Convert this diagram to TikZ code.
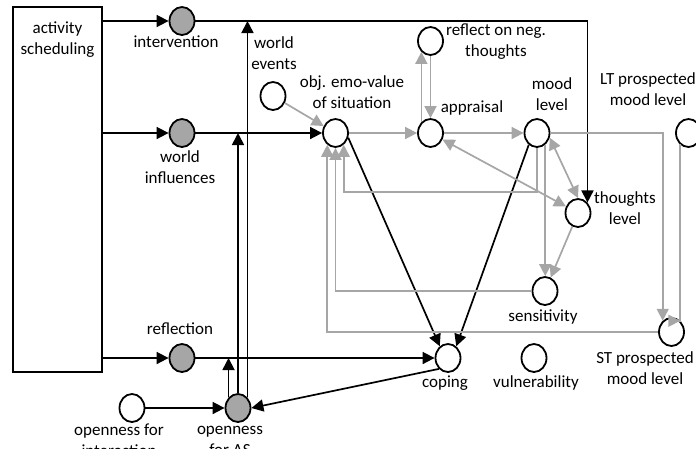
\documentclass[tikz,border=0pt]{standalone}
\usepackage{fontspec}
\setmainfont{Carlito}
\usetikzlibrary{shapes.geometric,arrows.meta}
\definecolor{lg}{HTML}{A6A6A6}
\begin{document}
\begin{tikzpicture}[x=1pt,y=-1pt,
  font=\fontsize{17}{21}\selectfont,
  wnode/.style={ellipse, draw, line width=1.8pt, fill=white, minimum width=25pt, minimum height=28pt, inner sep=0pt},
  gnode/.style={wnode, fill=lg},
  lbl/.style={align=center, inner sep=0pt},
  blk/.style={draw=black, line width=1.7pt, -{Triangle[length=12pt,width=12pt]}},
  gry/.style={draw=lg, line width=1.7pt, -{Triangle[length=12pt,width=12pt]}},
  gry2/.style={draw=lg, line width=1.7pt, {Triangle[length=12pt,width=12pt]}-{Triangle[length=12pt,width=12pt]}},
]
\useasboundingbox (0,0) rectangle (696,448);
\clip (0,0) rectangle (696,448);

% activity scheduling box
\node[draw, line width=1.7pt, minimum width=89pt, minimum height=365pt, inner sep=0pt] (act) at (57.5,189.5) {};
\node[lbl] (lact) at (57.5,40) {activity\\scheduling};

% grey nodes
\node[gnode] (intv) at (182,21) {};
\node[gnode] (wi) at (182,133) {};
\node[gnode] (refl) at (182,358) {};
\node[gnode] (oas) at (238,408) {};

% white nodes
\node[wnode] (ofi) at (132,408) {};
\node[wnode] (objsrc) at (273,96) {};
\node[wnode] (obj) at (335.5,133) {};
\node[wnode] (appr) at (430.5,133) {};
\node[wnode] (rfl) at (430.5,41) {};
\node[wnode] (mood) at (537,133) {};
\node[wnode] (lt) at (688.5,133) {};
\node[wnode] (thl) at (578,213) {};
\node[wnode] (sens) at (545,291) {};
\node[wnode] (cop) at (448,358) {};
\node[wnode] (vul) at (534,358) {};
\node[wnode] (st) at (671.5,332) {};

% labels
\node[lbl] (lintv) at (176,42) {intervention};
\node[lbl] (lwe) at (274,53) {world\\events};
\node[lbl] (lobj) at (352,92.5) {obj. emo-value\\of situation};
\node[lbl] (lrfl) at (496,41.5) {reflect on neg.\\thoughts};
\node[lbl] (lappr) at (472,108) {appraisal};
\node[lbl] (lmood) at (552,94) {mood\\level};
\node[lbl] (llt) at (648,89.5) {LT prospected\\mood level};
\node[lbl] (lwi) at (180,167.5) {world\\influences};
\node[lbl] (lthl) at (625,208) {thoughts\\level};
\node[lbl] (lsens) at (543,317) {sensitivity};
\node[lbl] (lrefl) at (180,329) {reflection};
\node[lbl] (lcop) at (445,383) {coping};
\node[lbl] (lvul) at (536,383) {vulnerability};
\node[lbl] (lst) at (645,368) {ST prospected\\mood level};
\node[lbl] (lofi) at (119,440.5) {openness for\\interaction};
\node[lbl] (loas) at (230,440.5) {openness\\for AS};

% black connectors
\draw[blk] (act.east |- intv) -- (intv);
\draw[blk] (act.east |- wi) -- (wi);
\draw[blk] (act.east |- refl) -- (refl);
\draw[blk] (intv.east) -- (thl.north east |- intv) -- (thl.north east);
\draw[blk] (oas.north east) -- (oas.north east |- intv);
\draw[blk] (oas.north) -- (oas.north |- wi);
\draw[blk] (oas.north west) -- (oas.north west |- refl);
\draw[blk] (wi) -- (obj);
\draw[blk] (refl) -- (cop);
\draw[blk] (obj.-20) -- (cop.125);
\draw[blk] (mood.235) -- (cop.55);
\draw[blk] (cop.230) -- (oas.east);
\draw[blk] (ofi) -- (oas);

% grey connectors
\coordinate (ymo) at (0,192);
\draw[gry] (objsrc) -- (obj);
\draw[gry] (obj) -- (appr);
\draw[gry] (appr) -- (mood);
\draw[gry] (appr.130) -- (rfl.230);
\draw[gry] (rfl.south) -- (appr.north);
\draw[gry] (mood.south) -- (mood.south |- ymo) -- (obj.305 |- ymo) -- (obj.305);
\draw[gry] (mood.305) -- (mood.305 |- sens.north);
\draw[gry2] (mood.-20) -- (thl.north);
\draw[gry2] (appr) -- (thl);
\draw[gry] (thl) -- (sens);
\draw[gry] (sens.west) -- (sens.west -| obj.south) -- (obj.south);
\draw[gry] (st.west) -- (st.west -| obj.235) -- (obj.235);
\draw[gry] (mood.east) -- (mood.east -| st.128) -- (st.128);
\draw[gry] (lt.232) -- (lt.232 |- st.52) -- (st.52);
\end{tikzpicture}
\end{document}
